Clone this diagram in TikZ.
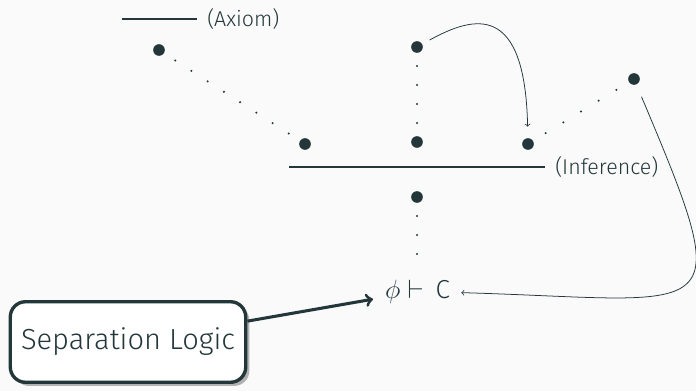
\documentclass[tikz,border=0pt]{standalone}
\usepackage{fontspec}
\setmainfont{Fira Sans Light}
\usetikzlibrary{calc, shadows}
\definecolor{mdarkteal}{HTML}{23373B}
\definecolor{mbg}{HTML}{FAFAFA}

\begin{document}
\begin{tikzpicture}[x=0.654pt, y=-0.654pt,
    every node/.style={font=\fontsize{14}{16}\selectfont, text=mdarkteal},
    bigdot/.style={circle, fill=mdarkteal, inner sep=0pt, minimum size=7.6pt},
    rule/.style={draw=mdarkteal, line width=0.8pt},
    link/.style={draw=mdarkteal, line width=0.5pt, ->},
    sepbox/.style={draw=mdarkteal, line width=2.2pt, fill=white, rounded corners=10pt,
      minimum width=154pt, minimum height=52.7pt,
      drop shadow={shadow xshift=2.4pt, shadow yshift=-2.4pt, fill=black!30, opacity=1},
      font=\fontsize{19}{23}\selectfont}]
  \useasboundingbox[fill=mbg] (0,0) rectangle (696,391);
  % Regla axioma
  \draw[rule] (122,19) coordinate (ax1) -- (197,19) coordinate (ax2);
  \node[anchor=west, inner sep=0pt] (axlabel) at ($(ax2)+(10,0)$) {(Axiom)};
  % Puntos grandes
  \node[bigdot] (a1) at (159,50) {};
  \node[bigdot] (a2) at (305,144) {};
  \node[bigdot] (b1) at (417,47) {};
  \node[bigdot] (b2) at (417,142) {};
  \node[bigdot] (c1) at (528,144) {};
  \node[bigdot] (c2) at (634,79) {};
  \node[bigdot] (d) at (417,197) {};
  \node[anchor=base, inner sep=0pt, font=\fontsize{17}{19}\selectfont] (goal) at (417.5,298) {$\phi \vdash \,\mathrm{C}$};
  \coordinate (g) at (417,292);
  % Puntos pequenos
  \foreach \i in {1,...,8} {
    \fill[mdarkteal] ($(a1)!\i/9!(a2)$) circle (0.75pt);
  }
  \foreach \i in {1,...,4} {
    \fill[mdarkteal] ($(b1)!\i/5!(b2)$) circle (0.75pt);
  }
  \foreach \i in {1,...,5} {
    \fill[mdarkteal] ($(c1)!\i/6!(c2)$) circle (0.75pt);
  }
  \foreach \i in {1,2,3} {
    \fill[mdarkteal] ($(d)!\i/5!(g)$) circle (0.75pt);
  }
  % Regla de inferencia
  \draw[rule] (289,167) coordinate (inf1) -- (545,167) coordinate (inf2);
  \node[anchor=west, inner sep=0pt] (inflabel) at ($(inf2)+(10,0)$) {(Inference)};
  % Flechas curvas
  \draw[link, shorten <=5.4pt, shorten >=7.3pt] (b1) .. controls (475,15) and (525,3) .. (c1);
  \draw[link, shorten <=8.6pt, shorten >=7.2pt] (c2) .. controls (740,330) and (720,300) .. (goal);
  % Caja
  \node[sepbox] (sl) at (128,342) {Separation Logic};
  \draw[mdarkteal, line width=2pt, ->, shorten >=7.8pt] (sl) -- (goal);
\end{tikzpicture}
\end{document}
